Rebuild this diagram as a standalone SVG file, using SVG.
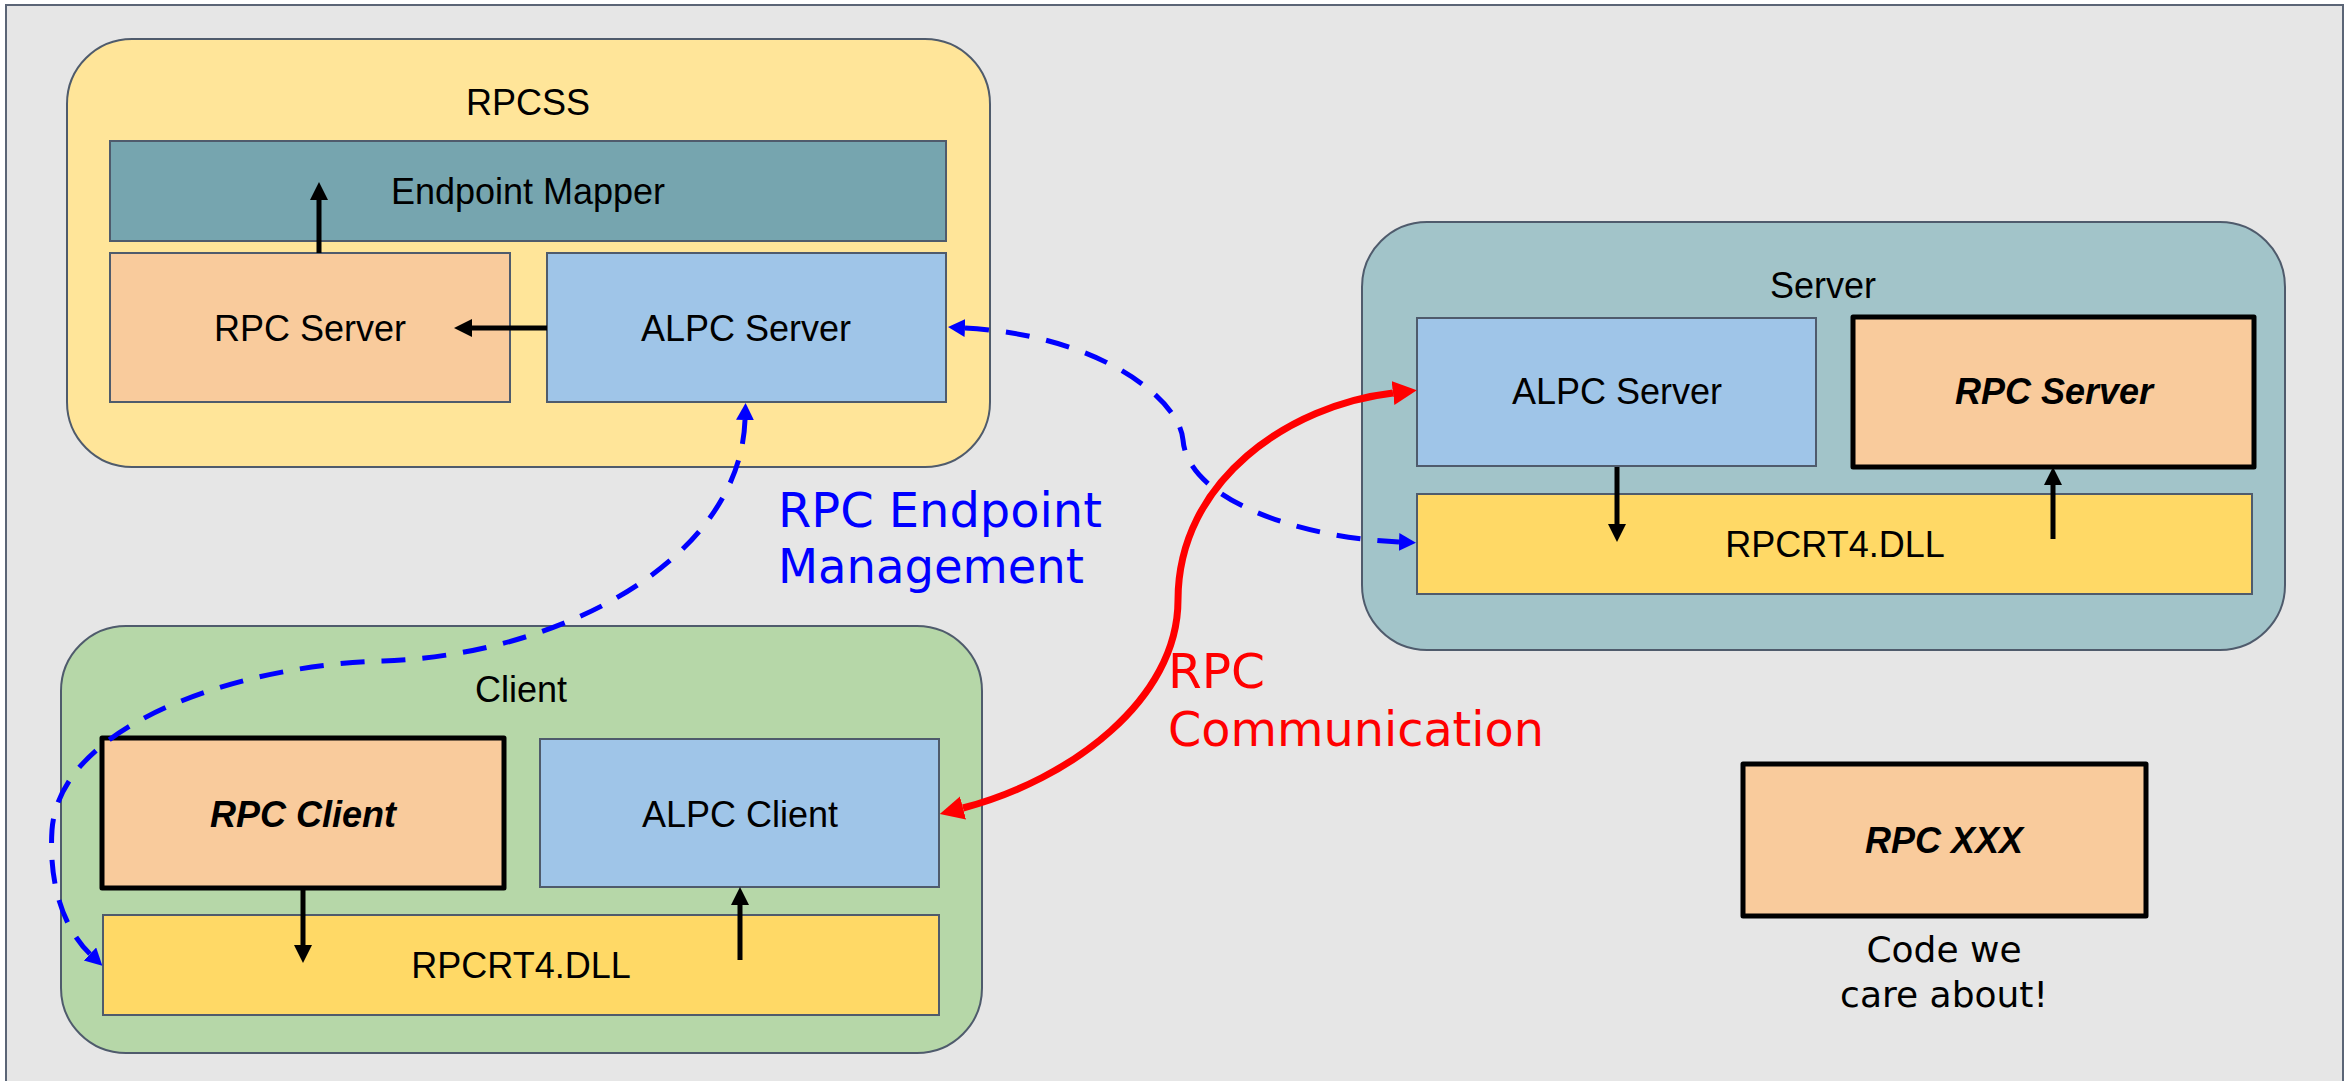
<svg xmlns="http://www.w3.org/2000/svg" width="2349" height="1081" viewBox="0 0 2349 1081">
<defs>
<style>
.frame{fill:#e6e6e6;stroke:#5b6576;stroke-width:2}
.cont{stroke:#4f5b6c;stroke-width:2}
.box{stroke:#4f5b6c;stroke-width:2}
.bold{stroke:#000;stroke-width:5;stroke-linejoin:round}
.lbl{font-family:"Liberation Sans",Arial,sans-serif;font-size:36px;fill:#000;text-anchor:middle}
.bi{font-weight:bold;font-style:italic}
.note{font-family:"DejaVu Sans",Verdana,sans-serif;font-size:48px}
.blk{stroke:#000;stroke-width:5;fill:none}
.blue{stroke:#0000ff;stroke-width:5;fill:none;stroke-dasharray:24 17}
.red{stroke:#ff0000;stroke-width:7;fill:none}
</style>
<marker id="ah" markerUnits="userSpaceOnUse" markerWidth="20" markerHeight="20" refX="0" refY="9" orient="auto"><path d="M0,0 L18,9 L0,18 z" fill="#000"/></marker>
<marker id="bh" markerUnits="userSpaceOnUse" markerWidth="20" markerHeight="20" refX="0" refY="9" orient="auto-start-reverse"><path d="M0,0 L17,9 L0,18 z" fill="#0000ff"/></marker>
<marker id="rh" markerUnits="userSpaceOnUse" markerWidth="26" markerHeight="26" refX="0" refY="12" orient="auto-start-reverse"><path d="M0,0 L24,12 L0,24 z" fill="#ff0000"/></marker>
</defs>
<rect x="0" y="0" width="2349" height="1081" fill="#ffffff"/>
<rect class="frame" x="6" y="5" width="2337" height="1090"/>

<g id="rpcss">
<rect class="cont" x="67" y="39" width="923" height="428" rx="65" ry="65" fill="#ffe599"/>
<text class="lbl" x="528" y="115">RPCSS</text>
</g>
<g id="endpoint-mapper">
<rect class="box" x="110" y="141" width="836" height="100" fill="#76a5af"/>
<text class="lbl" x="528" y="204">Endpoint Mapper</text>
</g>
<g id="rpcss-rpc-server">
<rect class="box" x="110" y="253" width="400" height="149" fill="#f9cb9c"/>
<text class="lbl" x="310" y="341">RPC Server</text>
</g>
<g id="rpcss-alpc-server">
<rect class="box" x="547" y="253" width="399" height="149" fill="#9fc5e8"/>
<text class="lbl" x="746" y="341">ALPC Server</text>
</g>

<g id="server">
<rect class="cont" x="1362" y="222" width="923" height="428" rx="65" ry="65" fill="#a2c4c9"/>
<text class="lbl" x="1823" y="298">Server</text>
</g>
<g id="server-alpc-server">
<rect class="box" x="1417" y="318" width="399" height="148" fill="#9fc5e8"/>
<text class="lbl" x="1617" y="404">ALPC Server</text>
</g>
<g id="server-rpc-server">
<rect class="bold" x="1853" y="317" width="401" height="150" fill="#f9cb9c"/>
<text class="lbl bi" x="2054" y="404">RPC Server</text>
</g>
<g id="server-rpcrt4">
<rect class="box" x="1417" y="494" width="835" height="100" fill="#ffd966"/>
<text class="lbl" x="1835" y="557">RPCRT4.DLL</text>
</g>

<g id="client">
<rect class="cont" x="61" y="626" width="921" height="427" rx="65" ry="65" fill="#b6d7a8"/>
<text class="lbl" x="521" y="702">Client</text>
</g>
<g id="client-rpc-client">
<rect class="bold" x="102" y="738" width="402" height="150" fill="#f9cb9c"/>
<text class="lbl bi" x="303" y="827">RPC Client</text>
</g>
<g id="client-alpc-client">
<rect class="box" x="540" y="739" width="399" height="148" fill="#9fc5e8"/>
<text class="lbl" x="740" y="827">ALPC Client</text>
</g>
<g id="client-rpcrt4">
<rect class="box" x="103" y="915" width="836" height="100" fill="#ffd966"/>
<text class="lbl" x="521" y="978">RPCRT4.DLL</text>
</g>

<g id="legend">
<rect class="bold" x="1743" y="764" width="403" height="152" fill="#f9cb9c"/>
<text class="lbl bi" x="1944" y="853">RPC XXX</text>
<text class="note" style="font-size:36px" x="1944" y="962" text-anchor="middle">Code we</text>
<text class="note" style="font-size:36px" x="1944" y="1007" text-anchor="middle">care about!</text>
</g>

<g id="connectors">
<path class="blk" d="M319,253 L319,200" marker-end="url(#ah)"/>
<path class="blk" d="M547,328 L472,328" marker-end="url(#ah)"/>
<path class="blk" d="M1617,467 L1617,524" marker-end="url(#ah)"/>
<path class="blk" d="M2053,539 L2053,485" marker-end="url(#ah)"/>
<path class="blk" d="M303,888 L303,945" marker-end="url(#ah)"/>
<path class="blk" d="M740,960 L740,905" marker-end="url(#ah)"/>
<path class="blue" d="M965,328 C1100,335 1180,400 1183,440 C1188,500 1300,538 1399,542" marker-start="url(#bh)" marker-end="url(#bh)"/>
<path class="blue" d="M745,420 C740,560 560,655 383,661 C250,664 60,720 52,830 C48,895 70,935 90,954" marker-start="url(#bh)" marker-end="url(#bh)"/>
<path class="red" d="M963,808 C1070,780 1178,700 1178,600 C1178,480 1290,405 1393,393" marker-start="url(#rh)" marker-end="url(#rh)"/>
</g>

<g id="labels">
<text class="note" fill="#0000ff" x="778" y="527" textLength="324" lengthAdjust="spacingAndGlyphs">RPC Endpoint</text>
<text class="note" fill="#0000ff" x="778" y="583" textLength="306" lengthAdjust="spacingAndGlyphs">Management</text>
<text class="note" fill="#ff0000" x="1168" y="688" textLength="97" lengthAdjust="spacingAndGlyphs">RPC</text>
<text class="note" fill="#ff0000" x="1168" y="746" textLength="376" lengthAdjust="spacingAndGlyphs">Communication</text>
</g>
</svg>
